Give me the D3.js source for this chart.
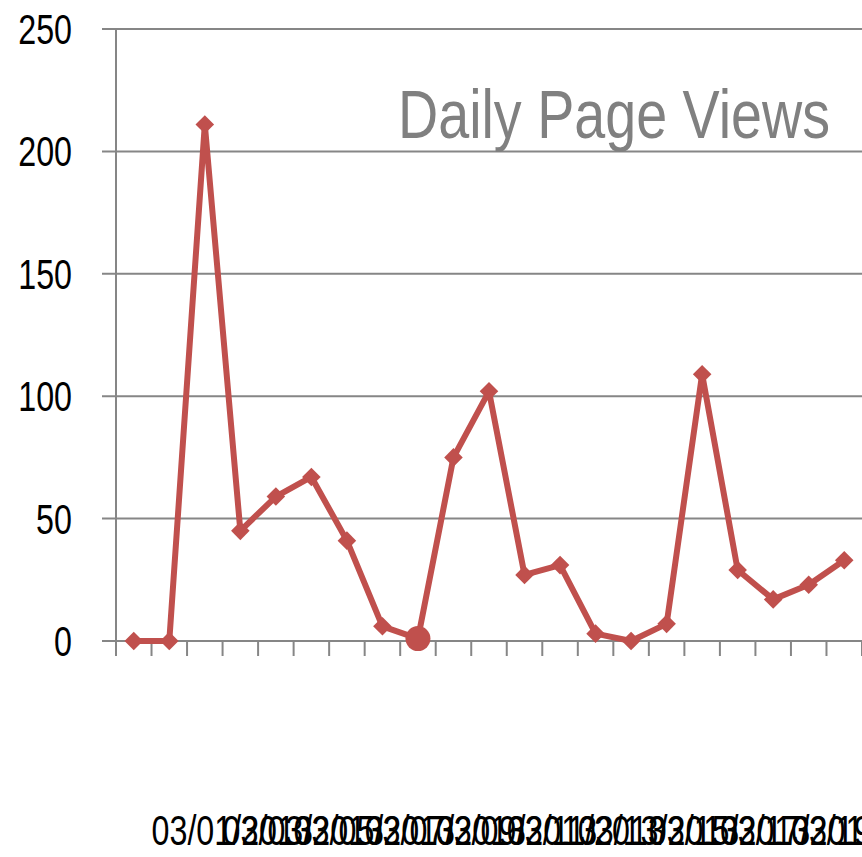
<!DOCTYPE html>
<html>
<head>
<meta charset="utf-8">
<script src="https://cdn.jsdelivr.net/npm/d3@7"></script>
<style>
  body { margin: 0; background: #fff; }
  text { font-family: "Liberation Sans", Arial, sans-serif; }
</style>
</head>
<body>
<div id="chart"></div>
<script>
// data
const dates = ["03/01/2013", "03/02/2013", "03/03/2013", "03/04/2013", "03/05/2013", "03/06/2013", "03/07/2013",
  "03/08/2013", "03/09/2013", "03/10/2013", "03/11/2013", "03/12/2013", "03/13/2013", "03/14/2013",
  "03/15/2013", "03/16/2013", "03/17/2013", "03/18/2013", "03/19/2013", "03/20/2013", "03/21/2013"];
const views = [0, 0, 211, 45, 59, 67, 41, 6, 1, 75, 102, 27, 31, 3, 0, 7, 109, 29, 17, 23, 33];
const yTicks = [0, 50, 100, 150, 200, 250];
const highlight = 8; // the point drawn as a circle
const title = "Daily Page Views";

const W = 862, H = 857;
const red = "#c0504d", grey = "#868686";
const squeeze = 0.75; // the original font is a condensed one

const svg = d3.select("#chart")
  .append("svg")
  .attr("width", W)
  .attr("height", H);

const x = d3.scaleBand()
  .domain(dates)
  .range([116, 862]);

const y = d3.scaleLinear()
  .domain([0, 250])
  .range([641, 29]);

// gridlines
svg.append("g")
  .selectAll("line")
  .data(yTicks)
  .join("line")
  .attr("x1", 102)
  .attr("x2", W)
  .attr("y1", d => y(d))
  .attr("y2", d => y(d))
  .attr("stroke", grey)
  .attr("stroke-width", 2);

// y labels
svg.append("g")
  .selectAll("text")
  .data(yTicks)
  .join("text")
  .attr("transform", d => `translate(72,${y(d)}) scale(${squeeze},1)`)
  .attr("text-anchor", "end")
  .attr("dy", "0.35em")
  .style("font-size", "43px")
  .text(d => d);

svg.append("line")
  .attr("x1", 116).attr("x2", 116)
  .attr("y1", y(250)).attr("y2", y(0) + 15)
  .attr("stroke", grey).attr("stroke-width", 2);

// x ticks on category boundaries
svg.append("g")
  .selectAll("line")
  .data(dates)
  .join("line")
  .attr("x1", d => x(d) + x.bandwidth())
  .attr("x2", d => x(d) + x.bandwidth())
  .attr("y1", y(0))
  .attr("y2", y(0) + 15)
  .attr("stroke", grey)
  .attr("stroke-width", 2);

// x labels, every other one, they pile up like in the original
svg.append("g")
  .selectAll("text")
  .data(dates.filter((d, i) => i % 2 === 0))
  .join("text")
  .attr("transform", d => `translate(${x(d) + x.bandwidth()},845) scale(${squeeze},1)`)
  .style("font-size", "43px")
  .text(d => d);

// title
svg.append("text")
  .attr("x", 398)
  .attr("y", 138)
  .attr("textLength", 432)
  .attr("lengthAdjust", "spacingAndGlyphs")
  .attr("fill", "#808080")
  .style("font-size", "68px")
  .text(title);

// line
const line = d3.line()
  .x((d, i) => x(dates[i]) + x.bandwidth() / 2)
  .y(d => y(d));

svg.append("path")
  .datum(views)
  .attr("fill", "none")
  .attr("stroke", red)
  .attr("stroke-width", 6)
  .attr("stroke-linejoin", "round")
  .attr("d", line);

// markers
svg.append("g")
  .selectAll("path")
  .data(views)
  .join("path")
  .attr("transform", (d, i) => `translate(${x(dates[i]) + x.bandwidth() / 2},${y(d)})`)
  .attr("fill", red)
  .attr("d", (d, i) => i === highlight
    ? d3.symbol(d3.symbolCircle, 490)()
    : d3.symbol(d3.symbolDiamond2, 220)());
</script>
</body>
</html>
